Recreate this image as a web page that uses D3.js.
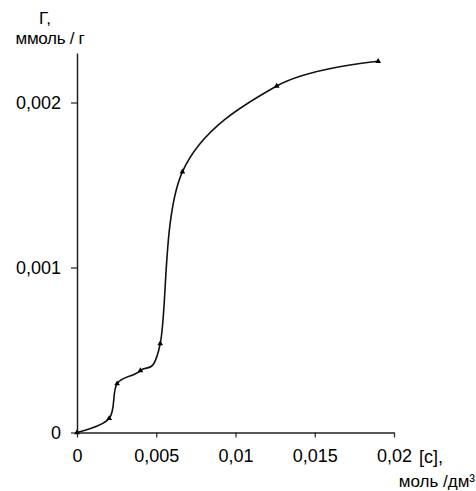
<!DOCTYPE html>
<html>
<head>
<meta charset="utf-8">
<script src="https://cdn.jsdelivr.net/npm/d3@7/dist/d3.min.js"></script>
<style>
  html, body { margin: 0; padding: 0; background: #fff; }
  svg { display: block; }
  text { font-family: "Liberation Sans", Arial, sans-serif; fill: #000; }
</style>
</head>
<body>
<svg id="chart" width="476" height="491"></svg>
<script>
// Data (concentration [c], mol/dm3  ->  adsorption Г, mmol/g)
const concentration = [0, 0.00203, 0.00253, 0.0040, 0.00525, 0.00665, 0.0126, 0.0190];
const adsorption    = [0, 0.000085, 0.000296, 0.000375, 0.000538, 0.00158, 0.00210, 0.00225];
const xTicks = [0, 0.005, 0.01, 0.015, 0.02];
const xTickLabels = ["0", "0,005", "0,01", "0,015", "0,02"];
const yTicks = [0, 0.001, 0.002];
const yTickLabels = ["0", "0,001", "0,002"];

const svg = d3.select("#chart");
const x = d3.scaleLinear().domain([0, 0.02]).range([77, 394]);
const y = d3.scaleLinear().domain([0, 0.0023]).range([432.5, 53]);

// X axis
const xAxis = d3.axisBottom(x).tickValues(xTicks)
  .tickFormat((d, i) => xTickLabels[i]).tickSizeInner(5).tickSizeOuter(0).tickPadding(12);
const gx = svg.append("g").attr("transform", `translate(0,${y(0)})`).call(xAxis);
gx.selectAll("path.domain").attr("stroke", "#222").attr("stroke-width", 1.5);
gx.selectAll(".tick line").attr("stroke", "#222").attr("stroke-width", 1.2);
gx.selectAll("text").style("font-size", "18px").attr("fill", "#000")
  .style("font-family", "'Liberation Sans', Arial, sans-serif");

// Y axis
const yAxis = d3.axisLeft(y).tickValues(yTicks)
  .tickFormat((d, i) => yTickLabels[i]).tickSizeInner(6).tickSizeOuter(0).tickPadding(10);
const gy = svg.append("g").attr("transform", `translate(${x(0)},0)`).call(yAxis);
gy.selectAll("path.domain").attr("stroke", "#222").attr("stroke-width", 1.5);
gy.selectAll(".tick line").attr("stroke", "#222").attr("stroke-width", 1.2);
gy.selectAll("text").style("font-size", "18px").attr("fill", "#000")
  .style("font-family", "'Liberation Sans', Arial, sans-serif");

// Axis titles
svg.append("text").attr("x", 45).attr("y", 24).attr("text-anchor", "middle")
  .style("font-size", "17px").text("Г,");
svg.append("text").attr("x", 50).attr("y", 44).attr("text-anchor", "middle")
  .style("font-size", "17px").style("letter-spacing", "-0.3px").text("ммоль / г");
svg.append("text").attr("x", 419).attr("y", 463).attr("text-anchor", "start")
  .style("font-size", "18px").text("[с],");
svg.append("text").attr("x", 475).attr("y", 487).attr("text-anchor", "end")
  .style("font-size", "17px").text("моль /дм³");

// Curve
const pts = concentration.map((c, i) => [c, adsorption[i]]);
const line = d3.line().x(d => x(d[0])).y(d => y(d[1])).curve(d3.curveCardinal.tension(0));
svg.append("path").datum(pts).attr("d", line)
  .attr("fill", "none").attr("stroke", "#111").attr("stroke-width", 1.6);

// Markers
const tri = d3.symbol().type(d3.symbolTriangle).size(14);
svg.selectAll("path.mk").data(pts).join("path").attr("class", "mk")
  .attr("d", tri).attr("transform", d => `translate(${x(d[0])},${y(d[1])})`)
  .attr("fill", "#000");
</script>
</body>
</html>
